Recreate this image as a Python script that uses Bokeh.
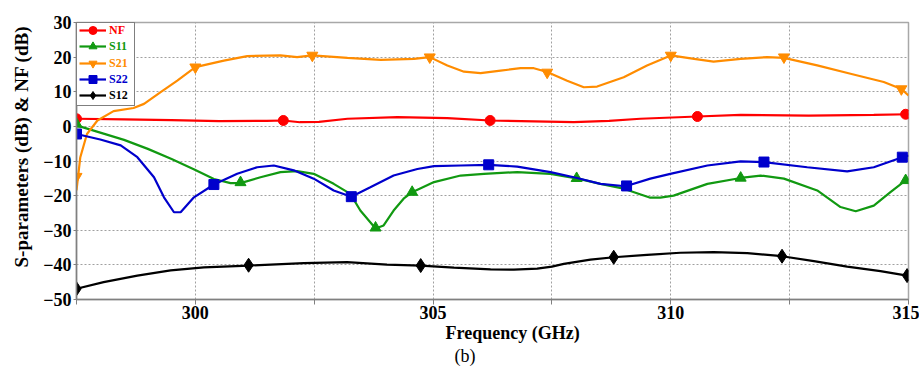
from bokeh.plotting import figure
from bokeh.models import FixedTicker, Legend, LegendItem, Range1d, Title
from bokeh.embed import file_html
from bokeh.resources import INLINE

FONT = "'Liberation Serif', 'Times New Roman', serif"

# ---- axes ----
freq_ticks = [300, 305, 310, 315]
freq_minor_ticks = [297.5, 302.5, 307.5, 312.5]
db_ticks = [-50, -40, -30, -20, -10, 0, 10, 20, 30]
x_title = "Frequency (GHz)"
y_title = "S-parameters (dB) & NF (dB)"

# ---- NF ----
nf_x = [297.5, 298.5, 299.5, 300.5, 301.5, 301.85, 302.2, 302.6, 303.2, 304.25, 305.3, 306.2,
        307.4, 307.96, 308.7, 309.36, 310.56, 311.47, 312.9, 314.27, 315.0]
nf_y = [2.2, 2.0, 1.8, 1.5, 1.6, 1.7, 1.2, 1.3, 2.2, 2.7, 2.4, 1.7,
        1.4, 1.2, 1.6, 2.2, 2.85, 3.3, 3.1, 3.3, 3.5]
nf_mx = [297.5, 301.85, 306.2, 310.56, 314.94]
nf_my = [2.2, 1.7, 1.7, 2.85, 3.5]

# ---- S11 ----
s11_x = [297.5, 298.0, 298.5, 299.0, 299.5, 300.0, 300.39, 300.74, 300.95, 301.37, 301.79, 302.14,
         302.49, 302.91, 303.26, 303.47, 303.79, 303.96, 304.17, 304.38, 304.56, 305.02, 305.58,
         306.07, 306.77, 307.47, 308.02, 308.52, 309.01, 309.57, 309.78, 310.06, 310.77, 311.47,
         311.89, 312.38, 313.08, 313.57, 313.89, 314.27, 314.62, 314.94]
s11_y = [0.3, -1.8, -3.9, -6.5, -9.4, -12.6, -15.2, -16.4, -16.4, -14.7, -13.2, -12.9,
         -13.7, -16.6, -19.5, -24.3, -29.5, -28.6, -24.3, -20.9, -19.0, -16.1, -14.2,
         -13.7, -13.2, -13.7, -15.0, -16.6, -18.0, -20.6, -20.6, -20.0, -16.6, -14.9,
         -14.2, -15.1, -18.5, -23.3, -24.5, -22.9, -19.0, -15.6]
s11_mx = [297.5, 300.95, 303.79, 304.56, 308.02, 311.47, 314.94]
s11_my = [0.7, -16.2, -29.3, -19.0, -15.0, -14.9, -15.6]

# ---- S21 ----
s21_x = [297.5, 297.58, 297.72, 297.94, 298.28, 298.7, 298.92, 299.27, 299.62, 300.0, 300.6,
         301.09, 301.79, 302.14, 302.46, 303.2, 303.9, 304.6, 304.93, 305.3, 305.65, 306.0,
         306.42, 306.84, 307.12, 307.4, 307.82, 308.17, 308.45, 309.01, 309.5, 310.0, 310.49,
         310.9, 311.47, 312.03, 312.38, 313.08, 313.78, 314.48, 314.85, 315.0]
s21_y = [-18.5, -8.9, -2.2, 1.7, 4.4, 5.3, 6.5, 9.9, 13.2, 17.1, 19.0,
         20.3, 20.5, 20.0, 20.5, 19.8, 19.2, 19.5, 20.0, 17.6, 15.8, 15.4,
         16.1, 16.8, 16.8, 15.7, 13.2, 11.3, 11.5, 14.2, 17.6, 20.5, 19.5,
         18.7, 19.5, 20.0, 19.8, 17.6, 15.2, 12.8, 10.8, 8.9]
s21_mx = [297.5, 300.0, 302.46, 304.93, 307.4, 310.0, 312.38, 314.85]
s21_my = [-14.5, 17.1, 20.5, 20.0, 15.6, 20.5, 20.0, 10.8]

# ---- S22 ----
s22_x = [297.5, 298.0, 298.43, 298.78, 299.13, 299.34, 299.55, 299.69, 299.97, 300.39, 300.88,
         301.3, 301.65, 302.07, 302.49, 302.91, 303.28, 303.68, 304.17, 304.67, 305.02, 305.58,
         306.17, 306.77, 307.47, 308.03, 308.52, 309.05, 309.57, 309.99, 310.77, 311.47, 311.96,
         312.87, 313.71, 314.27, 314.87, 315.0]
s22_y = [-2.2, -3.8, -5.5, -8.9, -14.7, -20.5, -24.8, -24.8, -20.5, -16.8, -13.7,
         -11.8, -11.3, -12.7, -15.1, -18.5, -20.3, -17.6, -14.2, -12.3, -11.5, -11.3,
         -11.1, -11.6, -13.2, -14.9, -16.6, -17.3, -15.1, -13.7, -11.3, -10.1, -10.3,
         -11.8, -13.0, -11.8, -8.9, -8.4]
s22_mx = [297.5, 300.39, 303.28, 306.17, 309.07, 311.96, 314.87]
s22_my = [-2.2, -16.8, -20.3, -11.1, -17.2, -10.3, -8.9]

# ---- S12 ----
s12_x = [297.5, 298.07, 298.78, 299.48, 300.18, 301.12, 302.28, 303.19, 304.03, 304.74, 305.44,
         306.21, 306.7, 307.19, 307.5, 307.75, 308.31, 308.8, 309.5, 310.2, 310.9, 311.61, 312.34,
         313.01, 313.71, 314.41, 314.97]
s12_y = [-46.9, -45.0, -43.1, -41.6, -40.7, -40.2, -39.5, -39.2, -39.9, -40.2, -40.8,
         -41.3, -41.4, -41.1, -40.5, -39.7, -38.5, -37.8, -37.1, -36.5, -36.3, -36.6, -37.5,
         -38.9, -40.5, -41.8, -43.1]
s12_mx = [297.5, 301.12, 304.74, 308.8, 312.34, 314.97]
s12_my = [-46.9, -40.1, -40.2, -37.8, -37.5, -43.1]

series = [
    ("NF", nf_x, nf_y, nf_mx, nf_my, "#ff0000", "circle", 10),
    ("S11", s11_x, s11_y, s11_mx, s11_my, "#119911", "triangle", 11),
    ("S21", s21_x, s21_y, s21_mx, s21_my, "#ff8c00", "inverted_triangle", 11),
    ("S22", s22_x, s22_y, s22_mx, s22_my, "#0000cc", "square", 10),
    ("S12", s12_x, s12_y, s12_mx, s12_my, "#000000", "diamond", 14),
]

W, H = 919, 371
TOP, BOTTOM, LEFT, RIGHT = 22, 72, 76, 11
FRAME_H = H - TOP - BOTTOM

p = figure(width=W, height=H, output_backend="svg", toolbar_location=None,
           x_range=Range1d(297.5, 315), y_range=Range1d(-50, 30),
           min_border_left=LEFT, min_border_right=RIGHT,
           min_border_top=TOP, min_border_bottom=BOTTOM)
p.outline_line_color = "#a8a8a8"
p.outline_line_width = 1.5

p.xaxis.ticker = FixedTicker(ticks=freq_ticks, minor_ticks=freq_minor_ticks)
p.yaxis.ticker = FixedTicker(ticks=db_ticks, minor_ticks=[])
for ax in (p.xaxis, p.yaxis):
    ax.axis_line_color = "#808080"
    ax.axis_line_width = 1.5
    ax.major_tick_line_color = "#808080"
    ax.minor_tick_line_color = "#808080"
    ax.major_tick_in = 0
    ax.minor_tick_in = 0
    ax.major_label_text_font = FONT
    ax.major_label_text_font_style = "bold"
    ax.major_label_text_font_size = "18px"
    ax.major_label_text_color = "black"
p.xaxis.major_tick_out = 5
p.xaxis.minor_tick_out = 5
p.xaxis.major_label_standoff = 1
p.yaxis.major_tick_out = 3
p.yaxis.minor_tick_out = 0
p.yaxis.major_label_standoff = 2

for g in (p.xgrid, p.ygrid):
    g.grid_line_color = "#a0a0a0"
    g.grid_line_dash = "2 2"
    g.grid_line_width = 1
p.xgrid.minor_grid_line_color = "#a0a0a0"
p.xgrid.minor_grid_line_dash = "2 2"
p.xgrid.minor_grid_line_width = 1

renderers = []
for name, x, y, mx, my, color, marker, size in series:
    lr = p.line(x, y, line_color=color, line_width=2.2)
    sr = p.scatter(mx, my, marker=marker, size=size, fill_color=color, line_color=color)
    renderers.append((name, color, lr, sr))

# legend frame: one blank item that only provides the white box and border
dummy = p.line(x=[], y=[], line_alpha=0)
PAD = 2
frame_legend = Legend(items=[LegendItem(label="", renderers=[dummy])],
                      location="top_left", margin=0, padding=PAD,
                      glyph_height=82 - 2 * PAD, label_height=20, glyph_width=28,
                      label_standoff=4, label_width=21, label_text_font_size="12px",
                      border_line_color="black", border_line_width=1.8,
                      background_fill_color="white", background_fill_alpha=1)
p.add_layout(frame_legend)

# one legend per series, so that every label has its own colour
ROW0, PITCH, ROWH = 8, 16.25, 20
for i, (name, color, lr, sr) in enumerate(renderers):
    centre = ROW0 + i * PITCH
    lg = Legend(items=[LegendItem(label=name, renderers=[lr, sr])],
                location=(3, round(FRAME_H - centre - ROWH / 2)), margin=0, padding=0,
                glyph_height=ROWH, label_height=ROWH, glyph_width=27, label_standoff=3,
                label_text_font=FONT, label_text_font_style="bold",
                label_text_font_size="12px", label_text_color=color,
                border_line_alpha=0, background_fill_alpha=0)
    p.add_layout(lg)

# axis titles (as Title panels so that they can sit where the reference has them)
ylab = Title(text=y_title, align="left", offset=32, standoff=15, vertical_align="middle",
             text_font=FONT, text_font_style="bold", text_font_size="19px", text_color="black")
p.add_layout(ylab, "left")
xlab = Title(text=x_title, align="left", offset=369, standoff=0, vertical_align="middle",
             text_font=FONT, text_font_style="bold", text_font_size="18px", text_color="black")
p.add_layout(xlab, "below")
caption = Title(text="(b)", align="left", offset=378, standoff=0,
                text_font=FONT, text_font_style="normal", text_font_size="18px",
                text_color="black")
p.add_layout(caption, "below")

open("out.html", "w").write(file_html(p, INLINE))
